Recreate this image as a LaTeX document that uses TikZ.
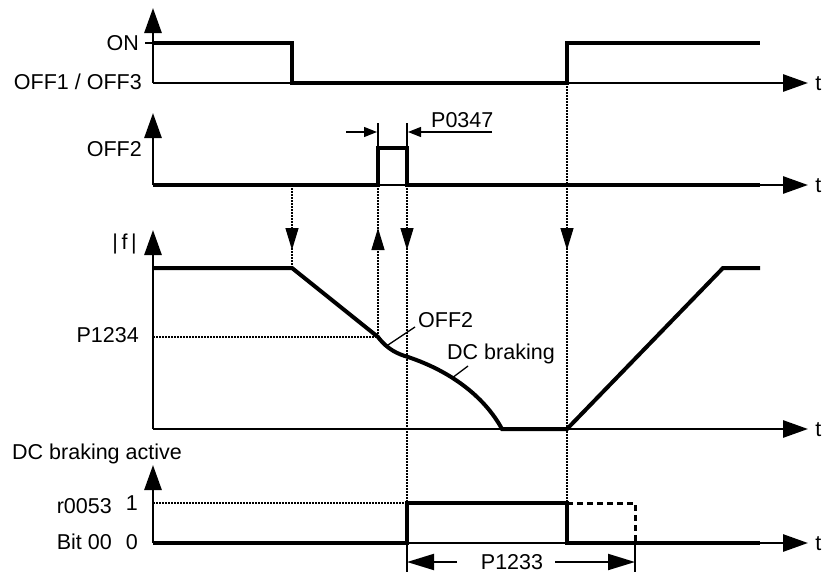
\documentclass[tikz,border=0pt]{standalone}
\usepackage{fontspec}
\setmainfont{Liberation Sans}
\usetikzlibrary{arrows.meta, decorations.markings}

\tikzset{
  sig/.style={line width=4pt, line join=miter},
  axis/.style={line width=2.8pt, -{Triangle[length=25pt,width=17pt]}},
  guide/.style={line width=1.2pt, dash pattern=on 2pt off 1pt},
  thinline/.style={line width=1.3pt},
  lbl/.style={font=\fontsize{21.5}{25}\selectfont, inner sep=0pt, text height=15pt, text depth=0pt},
  tip at/.style={decoration={markings, mark=at position #1 with {\arrow{Triangle[length=22pt,width=13pt]}}}, postaction={decorate}},
  dimtip/.style={-{Triangle[length=13pt,width=10pt]}},
  bigtip/.style={-{Triangle[length=27pt,width=16pt]}}
}

\begin{document}
\begin{tikzpicture}[x=1pt, y=-1pt]
  \useasboundingbox (0,0) rectangle (825,573);
  \coordinate (oA) at (153,83);
  \coordinate (oB) at (153,185);
  \coordinate (oC) at (153,429);
  \coordinate (oD) at (153,543);
  % axes
  \draw[axis] (oA) -- (153,8);
  \draw[axis] (oB) -- (153,113);
  \draw[axis] (oC) -- (153,230);
  \draw[axis] (oD) -- (153,465);
  \draw[axis] (oA) -- (808,83) node[lbl, anchor=west, xshift=6pt] (tA) {t};
  \draw[axis] (oB) -- (808,185) node[lbl, anchor=west, xshift=6pt] (tB) {t};
  \draw[axis] (oC) -- (808,429) node[lbl, anchor=west, xshift=6pt] (tC) {t};
  \draw[axis] (oD) -- (808,543) node[lbl, anchor=west, xshift=6pt] (tD) {t};
  \draw[line width=2pt] (145,43) -- (153,43);
  % labels
  \node[lbl, anchor=east] (on) at (139,43) {ON};
  \node[lbl, anchor=east] (off13) at (142,82) {OFF1 / OFF3};
  \node[lbl, anchor=east] (off2) at (142,149) {OFF2};
  \node[lbl, anchor=east] (absf) at (137,242) {|\,f\,|};
  \node[lbl, anchor=east] (p1234) at (139,335) {P1234};
  \node[lbl, anchor=west] (dcact) at (12,452) {DC braking active};
  \node[lbl, anchor=east] (r53) at (112,506) {r0053};
  \node[lbl, anchor=east] (one) at (138,503) {1};
  \node[lbl, anchor=east] (bit) at (112,542) {Bit 00};
  \node[lbl, anchor=east] (zero) at (138,542) {0};
  % signals
  \draw[sig] (153,43) -- (292,43) -- (292,83) -- (567,83) -- (567,43) -- (760,43);
  \draw[sig] (oB) -- (378,185) -- (378,148) -- (407,148) -- (407,185) -- (760,185);
  \draw[sig] (153,268) -- (292,268) -- (378,337)
    .. controls (388,350) and (398,354) .. (408,357)
    .. controls (450,371) and (484,396) .. (502,429) -- (567,429) -- (723,268) -- (760,268);
  \draw[sig] (oD) -- (407,543) -- (407,503) -- (567,503) -- (567,543) -- (760,543);
  \draw[line width=3pt, dash pattern=on 6pt off 4pt] (567,503) -- (635,503) -- (635,543);
  % guides
  \draw[guide] (153,337) -- (378,337);
  \draw[guide] (153,503) -- (407,503);
  \draw[guide, tip at=65pt] (292,185) -- (292,268);
  \draw[guide, tip at=109pt] (378,337) -- (378,185);
  \draw[guide, tip at=65pt] (407,185) -- (407,543);
  \draw[guide, tip at=167pt] (567,83) -- (567,503);
  % P0347
  \draw[thinline] (378,123) -- (378,148);
  \draw[thinline] (407,123) -- (407,148);
  \draw[thinline, dimtip] (346,132) -- (377,132);
  \draw[thinline, dimtip] (492,132) -- (408,132);
  \node[lbl, anchor=west] (p0347) at (431,120) {P0347};
  % curve labels
  \node[lbl, anchor=west] (lbloff2) at (418,320) {OFF2};
  \node[lbl, anchor=west] (lbldc) at (447,352) {DC braking};
  \draw[thinline] (388,345) -- (415,327);
  \draw[thinline] (452,378) -- (468,366);
  % P1233
  \draw[thinline] (407,543) -- (407,572);
  \draw[thinline] (635,543) -- (635,572);
  \node[lbl, anchor=center] (p1233) at (512,562) {P1233};
  \coordinate (dL) at (457,562);
  \coordinate (dR) at (555,562);
  \draw[line width=2pt, bigtip] (dL) -- (407,562);
  \draw[line width=2pt, bigtip] (dR) -- (635,562);
\end{tikzpicture}
\end{document}
